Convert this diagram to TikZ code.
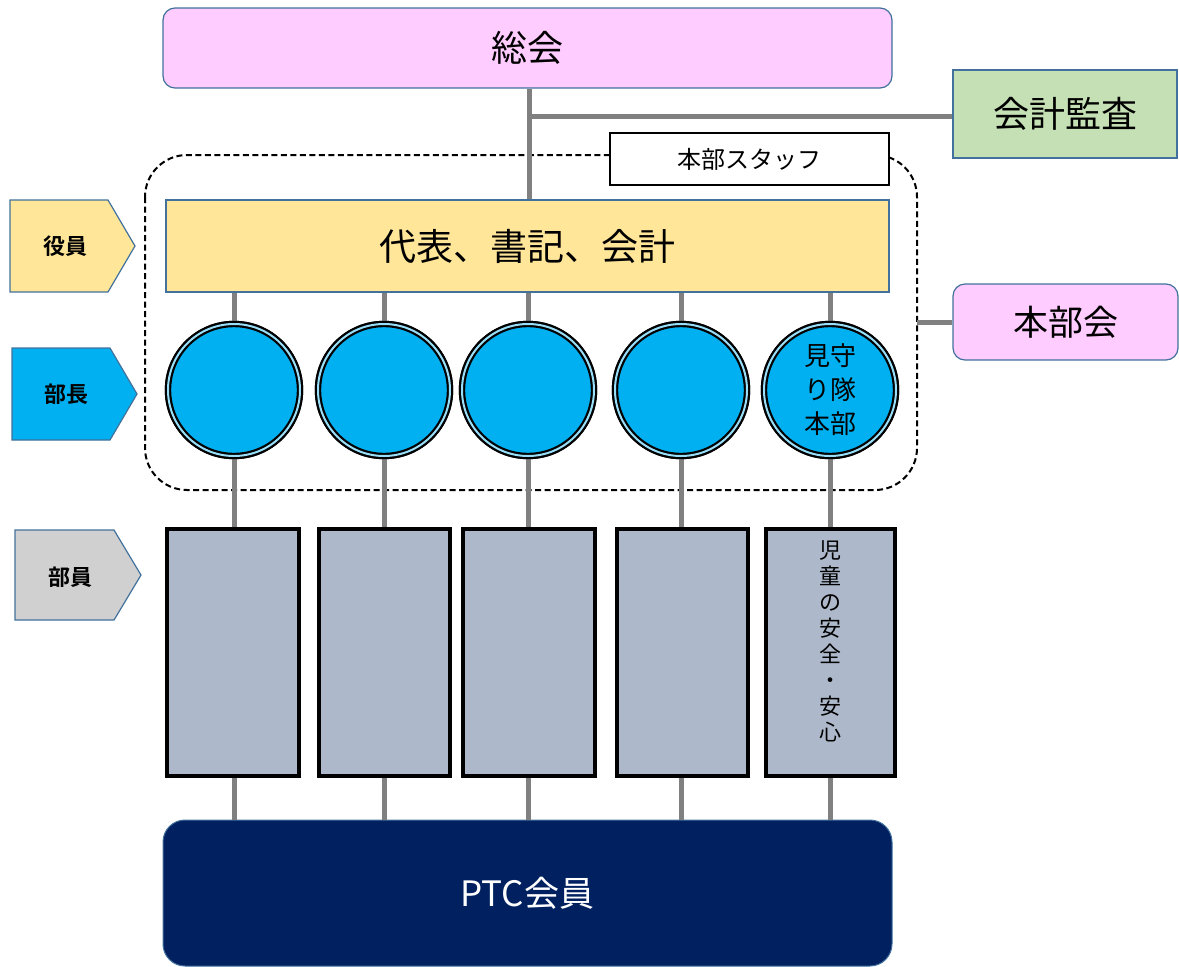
\documentclass[tikz,border=0pt]{standalone}
\usepackage{fontspec}
\setmainfont{Noto Sans CJK JP}
\newfontfamily\jpbold{Noto Sans CJK JP Bold}
\definecolor{pinkf}{HTML}{FFCCFF}
\definecolor{bordb}{HTML}{41719C}
\definecolor{greenf}{HTML}{C5E0B4}
\definecolor{yellowf}{HTML}{FFE699}
\definecolor{bluef}{HTML}{00B0F0}
\definecolor{grayf}{HTML}{D0D0D0}
\definecolor{rectf}{HTML}{ADB9CA}
\definecolor{navyf}{HTML}{002060}
\definecolor{linec}{HTML}{808080}
\tikzset{
  box/.style={draw=bordb, line width=1.2pt, inner sep=0pt},
  conn/.style={draw=linec, line width=5pt},
  bucircle/.style={circle, draw=black, line width=2.2pt, double=bluef!40!white, double distance=2pt, fill=bluef, minimum size=132pt, inner sep=0pt},
  burect/.style={draw=black, line width=3.5pt, fill=rectf, inner sep=0pt},
  tag/.style={draw=bordb, line width=1.2pt},
  tagtext/.style={font=\jpbold\fontsize{22}{26}\selectfont},
}
\begin{document}
\begin{tikzpicture}[x=1pt,y=-1pt]
\useasboundingbox (0,0) rectangle (1179,967);
% dashed group
\draw[dash pattern=on 6pt off 3.5pt, line width=2pt, rounded corners=42pt] (145,155) rectangle (917,490);
% top
\node[box, rounded corners=12pt, fill=pinkf, minimum width=729pt, minimum height=80pt, font=\fontsize{36}{40}\selectfont] (sokai) at (527.5,48) {総会};
\node[box, fill=greenf, minimum width=224pt, minimum height=88pt, font=\fontsize{36}{40}\selectfont] (kansa) at (1065,114) {会計監査};
\node[draw=black, line width=1.5pt, fill=white, minimum width=279pt, minimum height=52pt, font=\fontsize{24}{28}\selectfont] (staff) at (749.5,159) {本部スタッフ};
\node[box, fill=yellowf, minimum width=723pt, minimum height=92pt, font=\fontsize{37}{41}\selectfont] (yaku) at (527.5,246) {代表、書記、会計};
\node[box, rounded corners=12pt, fill=pinkf, minimum width=225pt, minimum height=76pt, font=\fontsize{35}{39}\selectfont] (honbukai) at (1065.5,322) {本部会};
\coordinate (dashR) at (917,322);
\coordinate (jn) at (529,116);
% connectors top
\draw[conn] (sokai.south -| jn) -- (yaku.north -| jn);
\draw[conn] (jn) -- (kansa.west |- jn);
\draw[conn] (dashR) -- (honbukai.west |- dashR);
% circles
\foreach \i/\x in {1/234,2/384,3/528,4/681,5/830}{
  \node[bucircle] (c\i) at (\x,390) {};
}
% rects
\node[burect, minimum width=132pt, minimum height=247pt] (r1) at (233,652.5) {};
\node[burect, minimum width=131pt, minimum height=247pt] (r2) at (384.5,652.5) {};
\node[burect, minimum width=132pt, minimum height=247pt] (r3) at (529,652.5) {};
\node[burect, minimum width=131pt, minimum height=247pt] (r4) at (682.5,652.5) {};
\node[burect, minimum width=129pt, minimum height=247pt] (r5) at (830.5,652.5) {};
\node[font=\fontsize{22}{26}\selectfont, align=center, anchor=north, inner sep=0pt] (vt) at (830.5,540) {児\\童\\の\\安\\全\\・\\安\\心};
% PTC
\node[draw=bordb, line width=1pt, rounded corners=22pt, fill=navyf, minimum width=729pt, minimum height=146pt, text=white, font=\fontsize{35}{39}\selectfont] (ptc) at (527.5,893) {PTC会員};
% connectors
\foreach \i/\x in {1/234,2/384,3/528,4/681,5/830}{
  \draw[conn] (yaku.south -| c\i) -- (c\i.north);
  \draw[conn] (c\i.south) -- (r\i.north -| c\i);
  \draw[conn] (r\i.south -| c\i) -- (ptc.north -| c\i);
}
% redraw circles on top of connector ends
\foreach \i/\x in {1/234,2/384,3/528,4/681,5/830}{
  \node[bucircle] at (\x,390) {};
}
\node[font=\fontsize{26}{34}\selectfont, align=center] (c5t) at (c5) {見守\\り隊\\本部};
% tags
\draw[tag, fill=yellowf] (10,200) -- (108,200) -- (135,246) -- (108,292) -- (10,292) -- cycle;
\node[tagtext] (t1) at (65,246) {役員};
\draw[tag, fill=bluef] (12,348) -- (110,348) -- (137,394) -- (110,440) -- (12,440) -- cycle;
\node[tagtext] (t2) at (66,394) {部長};
\draw[tag, fill=grayf] (15,530) -- (114,530) -- (141,575) -- (114,620) -- (15,620) -- cycle;
\node[tagtext] (t3) at (70,577) {部員};
\end{tikzpicture}
\end{document}
